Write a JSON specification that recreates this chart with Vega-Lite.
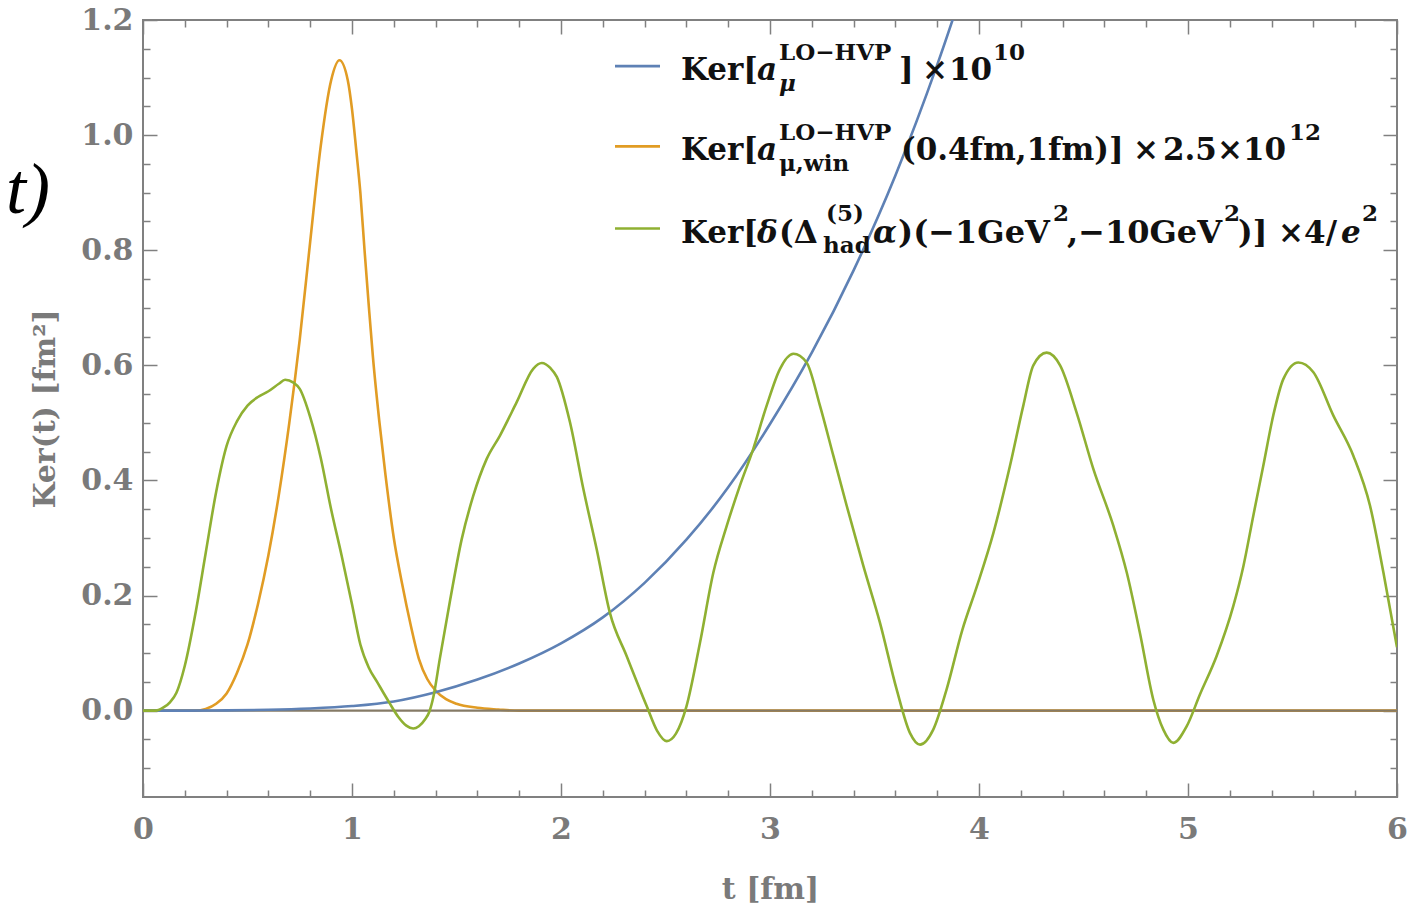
{
  "$schema": "https://vega.github.io/schema/vega-lite/v6.json",
  "width": 1254,
  "height": 777,
  "autosize": "none",
  "padding": {"left": 143, "top": 20, "right": 25, "bottom": 115},
  "background": "white",
  "config": {
    "view": {"stroke": "#808080", "strokeWidth": 2},
    "axis": {"grid": false, "domain": false, "tickColor": "#808080", "tickWidth": 1.5, "labelFont": "DejaVu Serif", "labelFontWeight": "bold", "labelFontSize": 30, "labelColor": "#7a7a7a", "titleFont": "DejaVu Serif", "titleFontWeight": "bold", "titleFontSize": 30, "titleColor": "#7a7a7a"},
    "text": {"font": "DejaVu Serif", "fontWeight": "bold", "color": "#111111", "align": "left", "baseline": "alphabetic"}
  },
  "datasets": {
    "blue": [
      {"t":0,"v":0},{"t":0.2,"v":0.0001},{"t":0.4,"v":0.0005},{"t":0.6,"v":0.0015},{"t":0.8,"v":0.0038},{"t":1.0,"v":0.008},{"t":1.2,"v":0.016},{"t":1.4,"v":0.032},{"t":1.6,"v":0.054},{"t":1.8,"v":0.082},{"t":2.0,"v":0.117},{"t":2.2,"v":0.162},{"t":2.4,"v":0.222},{"t":2.6,"v":0.297},{"t":2.8,"v":0.388},{"t":3.0,"v":0.498},{"t":3.2,"v":0.622},{"t":3.4,"v":0.765},{"t":3.6,"v":0.93},{"t":3.8,"v":1.122},{"t":4.0,"v":1.34}
    ],
    "orange": [
      {"t":0,"v":0},{"t":0.25,"v":0},{"t":0.3,"v":0.003},{"t":0.35,"v":0.012},{"t":0.4,"v":0.03},{"t":0.45,"v":0.066},{"t":0.5,"v":0.115},{"t":0.55,"v":0.185},{"t":0.6,"v":0.27},{"t":0.65,"v":0.375},{"t":0.7,"v":0.5},{"t":0.75,"v":0.645},{"t":0.8,"v":0.815},{"t":0.85,"v":0.98},{"t":0.9,"v":1.095},{"t":0.94,"v":1.13},{"t":0.98,"v":1.095},{"t":1.0,"v":1.045},{"t":1.02,"v":0.975},{"t":1.04,"v":0.9},{"t":1.06,"v":0.8},{"t":1.08,"v":0.705},{"t":1.1,"v":0.615},{"t":1.13,"v":0.505},{"t":1.16,"v":0.41},{"t":1.2,"v":0.3},{"t":1.24,"v":0.22},{"t":1.28,"v":0.15},{"t":1.32,"v":0.09},{"t":1.36,"v":0.055},{"t":1.4,"v":0.035},{"t":1.45,"v":0.02},{"t":1.5,"v":0.012},{"t":1.6,"v":0.005},{"t":1.7,"v":0.002},{"t":1.8,"v":0},{"t":6,"v":0}
    ],
    "green": [
      {"t":0,"v":0},{"t":0.06,"v":0},{"t":0.1,"v":0.006},{"t":0.13,"v":0.015},{"t":0.16,"v":0.031},{"t":0.2,"v":0.078},{"t":0.25,"v":0.167},{"t":0.3,"v":0.274},{"t":0.35,"v":0.38},{"t":0.4,"v":0.46},{"t":0.45,"v":0.503},{"t":0.5,"v":0.53},{"t":0.55,"v":0.545},{"t":0.6,"v":0.555},{"t":0.65,"v":0.568},{"t":0.68,"v":0.575},{"t":0.72,"v":0.57},{"t":0.75,"v":0.559},{"t":0.8,"v":0.51},{"t":0.85,"v":0.44},{"t":0.9,"v":0.35},{"t":0.95,"v":0.27},{"t":1.0,"v":0.185},{"t":1.04,"v":0.115},{"t":1.08,"v":0.075},{"t":1.12,"v":0.05},{"t":1.18,"v":0.013},{"t":1.22,"v":-0.01},{"t":1.26,"v":-0.026},{"t":1.293,"v":-0.031},{"t":1.32,"v":-0.027},{"t":1.35,"v":-0.015},{"t":1.37,"v":-0.002},{"t":1.39,"v":0.025},{"t":1.42,"v":0.09},{"t":1.47,"v":0.193},{"t":1.525,"v":0.298},{"t":1.58,"v":0.373},{"t":1.644,"v":0.437},{"t":1.708,"v":0.478},{"t":1.788,"v":0.536},{"t":1.867,"v":0.594},{"t":1.908,"v":0.604},{"t":1.95,"v":0.595},{"t":1.98,"v":0.58},{"t":2.043,"v":0.501},{"t":2.107,"v":0.385},{"t":2.171,"v":0.28},{"t":2.234,"v":0.17},{"t":2.314,"v":0.095},{"t":2.41,"v":0.008},{"t":2.46,"v":-0.035},{"t":2.506,"v":-0.053},{"t":2.55,"v":-0.04},{"t":2.6,"v":0.007},{"t":2.665,"v":0.118},{"t":2.729,"v":0.24},{"t":2.793,"v":0.321},{"t":2.856,"v":0.391},{"t":2.92,"v":0.455},{"t":2.984,"v":0.53},{"t":3.048,"v":0.594},{"t":3.112,"v":0.62},{"t":3.175,"v":0.605},{"t":3.239,"v":0.53},{"t":3.303,"v":0.443},{"t":3.367,"v":0.356},{"t":3.447,"v":0.251},{"t":3.526,"v":0.153},{"t":3.606,"v":0.037},{"t":3.67,"v":-0.039},{"t":3.718,"v":-0.059},{"t":3.781,"v":-0.033},{"t":3.845,"v":0.037},{"t":3.92,"v":0.14},{"t":3.989,"v":0.215},{"t":4.069,"v":0.309},{"t":4.148,"v":0.425},{"t":4.212,"v":0.53},{"t":4.26,"v":0.6},{"t":4.324,"v":0.622},{"t":4.388,"v":0.6},{"t":4.467,"v":0.518},{"t":4.547,"v":0.42},{"t":4.643,"v":0.321},{"t":4.707,"v":0.24},{"t":4.77,"v":0.135},{"t":4.834,"v":0.019},{"t":4.882,"v":-0.033},{"t":4.93,"v":-0.056},{"t":4.994,"v":-0.027},{"t":5.057,"v":0.028},{"t":5.137,"v":0.095},{"t":5.217,"v":0.182},{"t":5.265,"v":0.251},{"t":5.312,"v":0.338},{"t":5.36,"v":0.425},{"t":5.408,"v":0.513},{"t":5.456,"v":0.576},{"t":5.528,"v":0.605},{"t":5.6,"v":0.588},{"t":5.695,"v":0.513},{"t":5.791,"v":0.443},{"t":5.871,"v":0.356},{"t":5.935,"v":0.24},{"t":6.0,"v":0.11}
    ]
  },
  "resolve": {"axis": {"x": "independent", "y": "independent"}},
  "layer": [
    {
      "data": {"name": "orange"},
      "mark": {"type": "line", "color": "#E19C24", "strokeWidth": 2.6, "interpolate": "monotone", "clip": true},
      "encoding": {
        "x": {"field": "t", "type": "quantitative", "scale": {"domain": [0, 6], "nice": false, "zero": false},
              "axis": {"orient": "bottom", "values": [0,1,2,3,4,5,6], "labels": false, "tickSize": -14, "title": null}},
        "y": {"field": "v", "type": "quantitative", "scale": {"domain": [-0.15, 1.2], "nice": false, "zero": false},
              "axis": {"orient": "left", "values": [0,0.2,0.4,0.6,0.8,1,1.2], "labels": false, "tickSize": -14, "title": null}}
      }
    },
    {
      "data": {"values": [{}]},
      "mark": {"type": "rule", "color": "#857a66", "strokeWidth": 2.2},
      "encoding": {
        "x": {"datum": 0, "type": "quantitative", "scale": {"domain": [0, 6], "nice": false, "zero": false},
              "axis": {"orient": "bottom", "values": [0.2,0.4,0.6,0.8,1.2,1.4,1.6,1.8,2.2,2.4,2.6,2.8,3.2,3.4,3.6,3.8,4.2,4.4,4.6,4.8,5.2,5.4,5.6,5.8], "labels": false, "tickSize": -7, "title": null}},
        "x2": {"datum": 6},
        "y": {"datum": 0, "type": "quantitative", "scale": {"domain": [-0.15, 1.2], "nice": false, "zero": false},
              "axis": {"orient": "left", "values": [-0.1,-0.05,0.05,0.1,0.15,0.25,0.3,0.35,0.45,0.5,0.55,0.65,0.7,0.75,0.85,0.9,0.95,1.05,1.1,1.15], "labels": false, "tickSize": -7, "title": null}}
      }
    },
    {
      "data": {"name": "blue"},
      "mark": {"type": "line", "color": "#5E81B5", "strokeWidth": 2.6, "interpolate": "monotone", "clip": true},
      "encoding": {
        "x": {"field": "t", "type": "quantitative", "scale": {"domain": [0, 6], "nice": false, "zero": false},
              "axis": {"orient": "bottom", "values": [0,1,2,3,4,5,6], "format": "d", "ticks": false, "labelPadding": 17, "labelFlush": false, "labelOverlap": false, "title": "t [fm]", "titlePadding": 30}},
        "y": {"field": "v", "type": "quantitative", "scale": {"domain": [-0.15, 1.2], "nice": false, "zero": false},
              "axis": {"orient": "left", "values": [0,0.2,0.4,0.6,0.8,1,1.2], "format": ".1f", "ticks": false, "labelPadding": 10, "labelOverlap": false, "title": "Ker(t) [fm²]", "titlePadding": 20}}
      }
    },
    {
      "data": {"name": "green"},
      "mark": {"type": "line", "color": "#8FB032", "strokeWidth": 2.6, "interpolate": "monotone", "clip": true},
      "encoding": {
        "x": {"field": "t", "type": "quantitative", "scale": {"domain": [0, 6], "nice": false, "zero": false},
              "axis": {"orient": "top", "values": [0,1,2,3,4,5,6], "labels": false, "tickSize": -14, "title": null}},
        "y": {"field": "v", "type": "quantitative", "scale": {"domain": [-0.15, 1.2], "nice": false, "zero": false},
              "axis": {"orient": "right", "values": [0,0.2,0.4,0.6,0.8,1,1.2], "labels": false, "tickSize": -14, "title": null}}
      }
    },
    {
      "data": {"values": [{}]},
      "mark": {"type": "rule", "color": "#5E81B5", "strokeWidth": 2.6},
      "encoding": {
        "x": {"datum": 2.2584, "type": "quantitative", "scale": {"domain": [0, 6], "nice": false, "zero": false},
              "axis": {"orient": "top", "values": [0.2,0.4,0.6,0.8,1.2,1.4,1.6,1.8,2.2,2.4,2.6,2.8,3.2,3.4,3.6,3.8,4.2,4.4,4.6,4.8,5.2,5.4,5.6,5.8], "labels": false, "tickSize": -7, "title": null}},
        "x2": {"datum": 2.4737},
        "y": {"datum": 1.1198, "type": "quantitative", "scale": {"domain": [-0.15, 1.2], "nice": false, "zero": false},
              "axis": {"orient": "right", "values": [-0.1,-0.05,0.05,0.1,0.15,0.25,0.3,0.35,0.45,0.5,0.55,0.65,0.7,0.75,0.85,0.9,0.95,1.05,1.1,1.15], "labels": false, "tickSize": -7, "title": null}}
      }
    },
    {
      "data": {"values": [{}]},
      "mark": {"type": "rule", "color": "#E19C24", "strokeWidth": 2.6},
      "encoding": {
        "x": {"datum": 2.2584, "type": "quantitative", "axis": null},
        "x2": {"datum": 2.4737},
        "y": {"datum": 0.9805, "type": "quantitative", "axis": null}
      }
    },
    {
      "data": {"values": [{}]},
      "mark": {"type": "rule", "color": "#8FB032", "strokeWidth": 2.6},
      "encoding": {
        "x": {"datum": 2.2584, "type": "quantitative", "axis": null},
        "x2": {"datum": 2.4737},
        "y": {"datum": 0.8377, "type": "quantitative", "axis": null}
      }
    },
    {"data": {"values": [{}]}, "mark": {"type": "text", "text": "Ker[", "fontSize": 31}, "encoding": {"x": {"datum": 2.5742, "type": "quantitative", "axis": null}, "y": {"datum": 1.0954, "type": "quantitative", "axis": null}}},
    {"data": {"values": [{}]}, "mark": {"type": "text", "text": "a", "fontSize": 31, "fontStyle": "italic"}, "encoding": {"x": {"datum": 2.9378, "type": "quantitative", "axis": null}, "y": {"datum": 1.0954, "type": "quantitative", "axis": null}}},
    {"data": {"values": [{}]}, "mark": {"type": "text", "text": "LO−HVP", "fontSize": 23}, "encoding": {"x": {"datum": 3.0431, "type": "quantitative", "axis": null}, "y": {"datum": 1.1303, "type": "quantitative", "axis": null}}},
    {"data": {"values": [{}]}, "mark": {"type": "text", "text": "μ", "fontSize": 23, "fontStyle": "italic"}, "encoding": {"x": {"datum": 3.0431, "type": "quantitative", "axis": null}, "y": {"datum": 1.0763, "type": "quantitative", "axis": null}}},
    {"data": {"values": [{}]}, "mark": {"type": "text", "text": "]", "fontSize": 31}, "encoding": {"x": {"datum": 3.6172, "type": "quantitative", "axis": null}, "y": {"datum": 1.0954, "type": "quantitative", "axis": null}}},
    {"data": {"values": [{}]}, "mark": {"type": "text", "text": "×", "fontSize": 31}, "encoding": {"x": {"datum": 3.7273, "type": "quantitative", "axis": null}, "y": {"datum": 1.0954, "type": "quantitative", "axis": null}}},
    {"data": {"values": [{}]}, "mark": {"type": "text", "text": "10", "fontSize": 31}, "encoding": {"x": {"datum": 3.8565, "type": "quantitative", "axis": null}, "y": {"datum": 1.0954, "type": "quantitative", "axis": null}}},
    {"data": {"values": [{}]}, "mark": {"type": "text", "text": "10", "fontSize": 23}, "encoding": {"x": {"datum": 4.067, "type": "quantitative", "axis": null}, "y": {"datum": 1.1303, "type": "quantitative", "axis": null}}},

    {"data": {"values": [{}]}, "mark": {"type": "text", "text": "Ker[", "fontSize": 31}, "encoding": {"x": {"datum": 2.5742, "type": "quantitative", "axis": null}, "y": {"datum": 0.9561, "type": "quantitative", "axis": null}}},
    {"data": {"values": [{}]}, "mark": {"type": "text", "text": "a", "fontSize": 31, "fontStyle": "italic"}, "encoding": {"x": {"datum": 2.9378, "type": "quantitative", "axis": null}, "y": {"datum": 0.9561, "type": "quantitative", "axis": null}}},
    {"data": {"values": [{}]}, "mark": {"type": "text", "text": "LO−HVP", "fontSize": 23}, "encoding": {"x": {"datum": 3.0431, "type": "quantitative", "axis": null}, "y": {"datum": 0.991, "type": "quantitative", "axis": null}}},
    {"data": {"values": [{}]}, "mark": {"type": "text", "text": "μ,win", "fontSize": 23}, "encoding": {"x": {"datum": 3.0431, "type": "quantitative", "axis": null}, "y": {"datum": 0.937, "type": "quantitative", "axis": null}}},
    {"data": {"values": [{}]}, "mark": {"type": "text", "text": "(0.4fm,1fm)]", "fontSize": 31}, "encoding": {"x": {"datum": 3.6268, "type": "quantitative", "axis": null}, "y": {"datum": 0.9561, "type": "quantitative", "axis": null}}},
    {"data": {"values": [{}]}, "mark": {"type": "text", "text": "×", "fontSize": 31}, "encoding": {"x": {"datum": 4.7368, "type": "quantitative", "axis": null}, "y": {"datum": 0.9561, "type": "quantitative", "axis": null}}},
    {"data": {"values": [{}]}, "mark": {"type": "text", "text": "2.5×10", "fontSize": 31}, "encoding": {"x": {"datum": 4.8804, "type": "quantitative", "axis": null}, "y": {"datum": 0.9561, "type": "quantitative", "axis": null}}},
    {"data": {"values": [{}]}, "mark": {"type": "text", "text": "12", "fontSize": 23}, "encoding": {"x": {"datum": 5.4833, "type": "quantitative", "axis": null}, "y": {"datum": 0.991, "type": "quantitative", "axis": null}}},

    {"data": {"values": [{}]}, "mark": {"type": "text", "text": "Ker[", "fontSize": 31}, "encoding": {"x": {"datum": 2.5742, "type": "quantitative", "axis": null}, "y": {"datum": 0.8133, "type": "quantitative", "axis": null}}},
    {"data": {"values": [{}]}, "mark": {"type": "text", "text": "δ", "fontSize": 31, "fontStyle": "italic"}, "encoding": {"x": {"datum": 2.9378, "type": "quantitative", "axis": null}, "y": {"datum": 0.8133, "type": "quantitative", "axis": null}}},
    {"data": {"values": [{}]}, "mark": {"type": "text", "text": "(Δ", "fontSize": 31}, "encoding": {"x": {"datum": 3.0431, "type": "quantitative", "axis": null}, "y": {"datum": 0.8133, "type": "quantitative", "axis": null}}},
    {"data": {"values": [{}]}, "mark": {"type": "text", "text": "(5)", "fontSize": 23}, "encoding": {"x": {"datum": 3.268, "type": "quantitative", "axis": null}, "y": {"datum": 0.8516, "type": "quantitative", "axis": null}}},
    {"data": {"values": [{}]}, "mark": {"type": "text", "text": "had", "fontSize": 23}, "encoding": {"x": {"datum": 3.2536, "type": "quantitative", "axis": null}, "y": {"datum": 0.7959, "type": "quantitative", "axis": null}}},
    {"data": {"values": [{}]}, "mark": {"type": "text", "text": "α", "fontSize": 31, "fontStyle": "italic"}, "encoding": {"x": {"datum": 3.4928, "type": "quantitative", "axis": null}, "y": {"datum": 0.8133, "type": "quantitative", "axis": null}}},
    {"data": {"values": [{}]}, "mark": {"type": "text", "text": ")(−1GeV", "fontSize": 32}, "encoding": {"x": {"datum": 3.6124, "type": "quantitative", "axis": null}, "y": {"datum": 0.8133, "type": "quantitative", "axis": null}}},
    {"data": {"values": [{}]}, "mark": {"type": "text", "text": "2", "fontSize": 23}, "encoding": {"x": {"datum": 4.354, "type": "quantitative", "axis": null}, "y": {"datum": 0.8516, "type": "quantitative", "axis": null}}},
    {"data": {"values": [{}]}, "mark": {"type": "text", "text": ",−10GeV", "fontSize": 32}, "encoding": {"x": {"datum": 4.421, "type": "quantitative", "axis": null}, "y": {"datum": 0.8133, "type": "quantitative", "axis": null}}},
    {"data": {"values": [{}]}, "mark": {"type": "text", "text": "2", "fontSize": 23}, "encoding": {"x": {"datum": 5.1722, "type": "quantitative", "axis": null}, "y": {"datum": 0.8516, "type": "quantitative", "axis": null}}},
    {"data": {"values": [{}]}, "mark": {"type": "text", "text": ")] ×4/", "fontSize": 31}, "encoding": {"x": {"datum": 5.2392, "type": "quantitative", "axis": null}, "y": {"datum": 0.8133, "type": "quantitative", "axis": null}}},
    {"data": {"values": [{}]}, "mark": {"type": "text", "text": "e", "fontSize": 31, "fontStyle": "italic"}, "encoding": {"x": {"datum": 5.7321, "type": "quantitative", "axis": null}, "y": {"datum": 0.8133, "type": "quantitative", "axis": null}}},
    {"data": {"values": [{}]}, "mark": {"type": "text", "text": "2", "fontSize": 23}, "encoding": {"x": {"datum": 5.8325, "type": "quantitative", "axis": null}, "y": {"datum": 0.8516, "type": "quantitative", "axis": null}}},

    {"data": {"values": [{}]}, "mark": {"type": "text", "text": "t)", "font": "Liberation Serif", "fontWeight": "normal", "fontStyle": "italic", "fontSize": 72, "align": "right", "color": "#000000"}, "encoding": {"x": {"datum": -0.445, "type": "quantitative", "axis": null}, "y": {"datum": 0.864, "type": "quantitative", "axis": null}}}
  ]
}
